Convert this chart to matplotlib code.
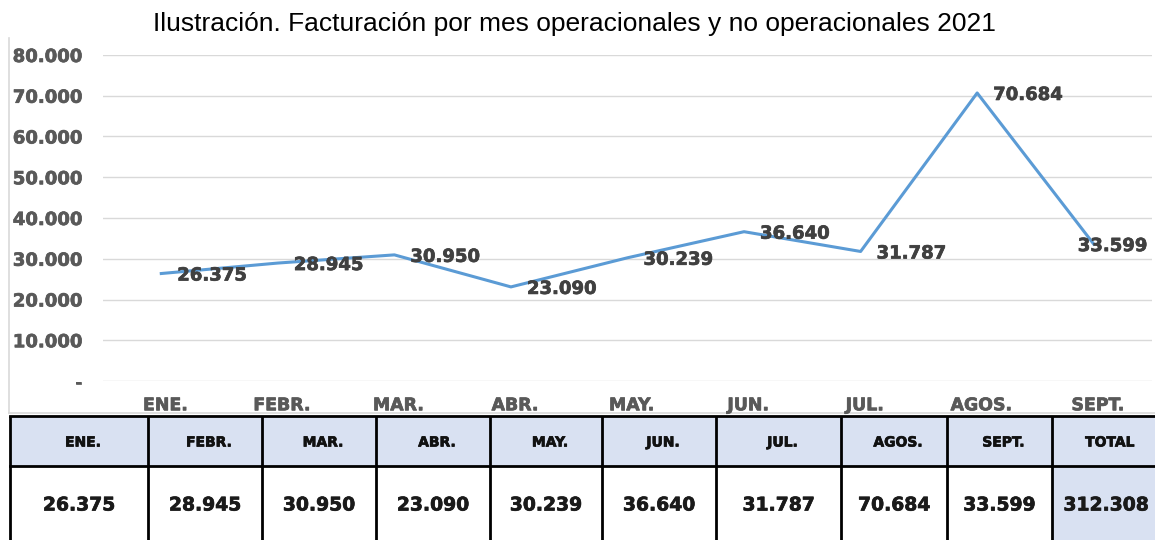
import numpy as np
import matplotlib
matplotlib.use("Agg")
import matplotlib.pyplot as plt
import matplotlib.patheffects as pe
import matplotlib.transforms as mtransforms
from matplotlib.patches import Rectangle

plt.rcParams["font.family"] = "DejaVu Sans"

# facturación mensual 2021
meses = ["ENE.", "FEBR.", "MAR.", "ABR.", "MAY.", "JUN.", "JUL.", "AGOS.", "SEPT."]
valores = [26375, 28945, 30950, 23090, 30239, 36640, 31787, 70684, 33599]
total = 312308
y_ticks = [0, 10000, 20000, 30000, 40000, 50000, 60000, 70000, 80000]

def fmt(v):
    # miles con punto, cero como guion
    if v == 0:
        return "-"
    return f"{v:,.0f}".replace(",", ".")

def grueso(color):
    # engrosa un poco el trazo de la letra
    return [pe.withStroke(linewidth=0.5, foreground=color)]

W, H = 1155, 540
fig = plt.figure(figsize=(W / 100, H / 100), dpi=100)
fig.patch.set_facecolor("white")

# --- grafico de linea ---
left, right, top, bottom = 103, 1152, 55, 381
ax = fig.add_axes([left / W, 1 - bottom / H, (right - left) / W, (bottom - top) / H])
x = np.arange(len(meses))
ax.plot(x, valores, color="#5B9BD5", lw=2.2, solid_joinstyle="round", zorder=3)
# la ultima etiqueta se corre a la izquierda para no salirse
dx = [11.5] * (len(meses) - 1) + [-11.5]
for xi, v, d in zip(x, valores, dx):
    ax.annotate(fmt(v), (xi, v), xytext=(d, 0), textcoords="offset points",
                ha="left", va="center_baseline", fontsize=13, fontweight="bold",
                color="#404040", zorder=4, path_effects=grueso("#404040"))

ax.set_xlim(-0.5, len(meses) - 0.5)
ax.set_ylim(0, 80000)
ax.set_yticks(y_ticks)
ax.set_yticklabels([fmt(t) for t in y_ticks])
ax.set_xticks(x)
ax.set_xticklabels(meses)
ax.tick_params(axis="y", length=0, pad=15, labelsize=13, labelcolor="#595959")
ax.tick_params(axis="x", length=0, pad=11, labelsize=12.5, labelcolor="#595959")
desplaza = mtransforms.ScaledTranslation(3 / 72, 0, fig.dpi_scale_trans)
for lab in ax.get_xticklabels():
    lab.set_transform(lab.get_transform() + desplaza)
for lab in ax.get_xticklabels() + ax.get_yticklabels():
    lab.set_fontweight("bold")
    lab.set_path_effects(grueso("#595959"))
ax.grid(axis="y", color="#D9D9D9", lw=1.0)
ax.set_axisbelow(True)
for s in ax.spines.values():
    s.set_visible(False)

fig.text(574 / W, 1 - 24 / H,
         "Ilustración. Facturación por mes operacionales y no operacionales 2021",
         ha="center", va="center", fontsize=19, family="Liberation Sans", color="#000000")

# --- marco del grafico y tabla, en pixeles ---
ov = fig.add_axes([0, 0, 1, 1], zorder=-1)
ov.set_xlim(0, W)
ov.set_ylim(H, 0)
ov.axis("off")
ov.plot([9, 9], [38, 413], color="#D9D9D9", lw=1.2)
ov.plot([9, W], [413, 413], color="#D9D9D9", lw=1.2)

tb = fig.add_axes([0, 0, 1, 1], zorder=5)
tb.set_xlim(0, W)
tb.set_ylim(H, 0)
tb.axis("off")
tb.patch.set_alpha(0)

cols = [10, 148, 262, 376, 490, 602, 716, 841, 947, 1052, 1160]
r_top, r_mid, r_bot = 416, 466, 545
cab = meses + ["TOTAL"]
fila = [fmt(v) for v in valores] + [fmt(total)]
azul = "#D9E1F2"

for i in range(len(cab)):
    x0, x1 = cols[i], cols[i + 1]
    tb.add_patch(Rectangle((x0, r_top), x1 - x0, r_mid - r_top, facecolor=azul, edgecolor="none"))
    if cab[i] == "TOTAL":
        tb.add_patch(Rectangle((x0, r_mid), x1 - x0, r_bot - r_mid, facecolor=azul, edgecolor="none"))
    tb.text((x0 + x1) / 2 + 4, (r_top + r_mid) / 2, cab[i], ha="center", va="center_baseline",
            fontsize=10, fontweight="bold", color="#111111", path_effects=grueso("#111111"))
    tb.text((x0 + x1) / 2, (r_mid + r_bot - 5) / 2, fila[i], ha="center", va="center_baseline",
            fontsize=13.5, fontweight="bold", color="#1a1a1a", path_effects=grueso("#1a1a1a"))

for cx in cols[:-1]:
    tb.plot([cx, cx], [r_top, r_bot], color="black", lw=2.0, solid_capstyle="butt")
tb.plot([cols[0], W], [r_top, r_top], color="black", lw=2.0)
tb.plot([cols[0], W], [r_mid, r_mid], color="black", lw=2.0)

fig.savefig("out.png", dpi=100)
